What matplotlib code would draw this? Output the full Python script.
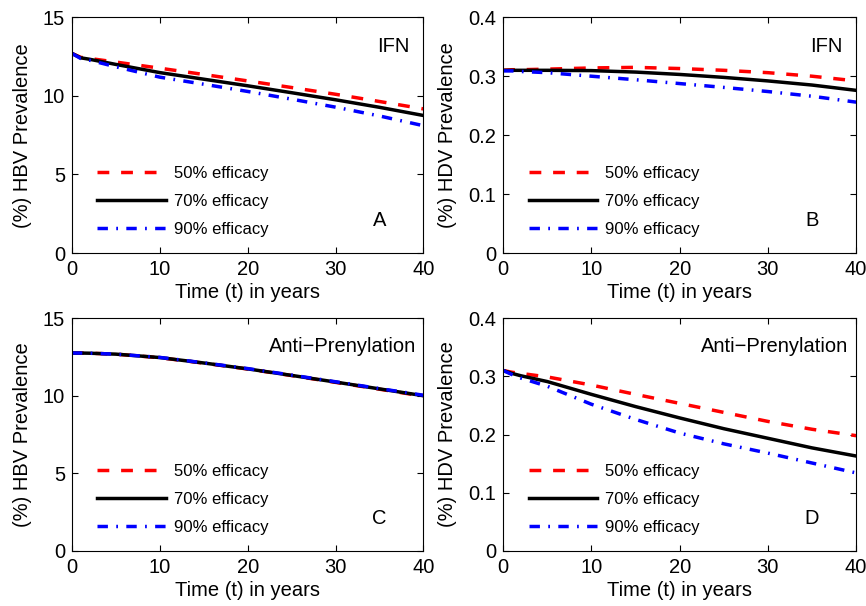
import matplotlib.pyplot as plt

plt.rcParams['font.family'] = ['Liberation Sans', 'DejaVu Sans']

t = [0, 1, 2, 5, 10, 15, 20, 25, 30, 35, 40]

# Panel A: HBV prevalence, IFN
hbv_ifn_50 = [12.7, 12.45, 12.38, 12.15, 11.76, 11.36, 10.95, 10.53, 10.10, 9.64, 9.17]
hbv_ifn_70 = [12.7, 12.42, 12.33, 12.0, 11.48, 11.06, 10.64, 10.2, 9.75, 9.27, 8.75]
hbv_ifn_90 = [12.7, 12.38, 12.27, 11.85, 11.19, 10.74, 10.28, 9.79, 9.28, 8.72, 8.10]

# Panel B: HDV prevalence, IFN
hdv_ifn_50 = [0.310, 0.311, 0.311, 0.312, 0.314, 0.315, 0.313, 0.310, 0.306, 0.300, 0.292]
hdv_ifn_70 = [0.310, 0.310, 0.310, 0.310, 0.3095, 0.307, 0.303, 0.298, 0.292, 0.285, 0.276]
hdv_ifn_90 = [0.309, 0.309, 0.308, 0.306, 0.300, 0.294, 0.2875, 0.281, 0.274, 0.266, 0.256]

# Panel C: HBV prevalence, anti-prenylation
hbv_ap_50 = [12.75, 12.75, 12.74, 12.68, 12.45, 12.1, 11.72, 11.3, 10.86, 10.42, 9.97]
hbv_ap_70 = [12.75, 12.75, 12.74, 12.68, 12.46, 12.11, 11.73, 11.31, 10.88, 10.44, 10.0]
hbv_ap_90 = [12.75, 12.75, 12.74, 12.68, 12.47, 12.12, 11.75, 11.33, 10.9, 10.46, 10.03]

# Panel D: HDV prevalence, anti-prenylation
hdv_ap_50 = [0.310, 0.307, 0.305, 0.299, 0.285, 0.269, 0.2535, 0.238, 0.2225, 0.209, 0.198]
hdv_ap_70 = [0.310, 0.305, 0.301, 0.291, 0.269, 0.248, 0.2285, 0.210, 0.1935, 0.177, 0.163]
hdv_ap_90 = [0.310, 0.303, 0.297, 0.283, 0.252, 0.226, 0.2025, 0.184, 0.168, 0.151, 0.134]

labels = ['50% efficacy', '70% efficacy', '90% efficacy']

panels = [
    ([hbv_ifn_50, hbv_ifn_70, hbv_ifn_90], 'IFN', 'A', '(%) HBV Prevalence', (0, 15), [0, 5, 10, 15]),
    ([hdv_ifn_50, hdv_ifn_70, hdv_ifn_90], 'IFN', 'B', '(%) HDV Prevalence', (0, 0.4), [0, 0.1, 0.2, 0.3, 0.4]),
    ([hbv_ap_50, hbv_ap_70, hbv_ap_90], 'Anti\u2212Prenylation', 'C', '(%) HBV Prevalence', (0, 15), [0, 5, 10, 15]),
    ([hdv_ap_50, hdv_ap_70, hdv_ap_90], 'Anti\u2212Prenylation', 'D', '(%) HDV Prevalence', (0, 0.4), [0, 0.1, 0.2, 0.3, 0.4]),
]

rects = [
    [0.083, 0.5825, 0.406, 0.389],
    [0.581, 0.5825, 0.4076, 0.389],
    [0.083, 0.091, 0.406, 0.384],
    [0.581, 0.091, 0.4076, 0.384],
]

fig = plt.figure(figsize=(8.66, 6.06), dpi=100)

for (series, name, letter, ylab, ylim, yticks), rect in zip(panels, rects):
    ax = fig.add_axes(rect)
    ax.plot(t, series[0], color='red', lw=2.5, ls=(0, (3.4, 3.4)), label=labels[0])
    ax.plot(t, series[1], color='black', lw=2.5, ls='-', label=labels[1])
    ax.plot(t, series[2], color='blue', lw=2.5, ls=(0, (3.0, 2.4, 0.5, 2.4)), label=labels[2])
    ax.set_xlim(0, 40)
    ax.set_ylim(*ylim)
    ax.set_xticks([0, 10, 20, 30, 40])
    ax.set_yticks(yticks)
    ax.set_yticklabels([('%g' % v) for v in yticks])
    ax.tick_params(direction='in', top=True, right=True, labelsize=14.5, length=4, pad=5)
    ax.set_xlabel('Time (t) in years', fontsize=14.5, labelpad=3)
    ax.set_ylabel(ylab, fontsize=14.5, labelpad=8)
    if name == 'IFN':
        ax.text(0.915, 0.875, name, transform=ax.transAxes, fontsize=14.5, ha='center', va='center')
    else:
        ax.text(0.77, 0.88, name, transform=ax.transAxes, fontsize=14.5, ha='center', va='center')
    ax.text(0.875, 0.14, letter, transform=ax.transAxes, fontsize=14.5, ha='center', va='center')
    ax.legend(loc='lower left', bbox_to_anchor=(0.03, 0.005), frameon=False, fontsize=12,
              handlelength=4.1, labelspacing=0.78, handletextpad=0.5)

fig.savefig('out.png', dpi=100)
